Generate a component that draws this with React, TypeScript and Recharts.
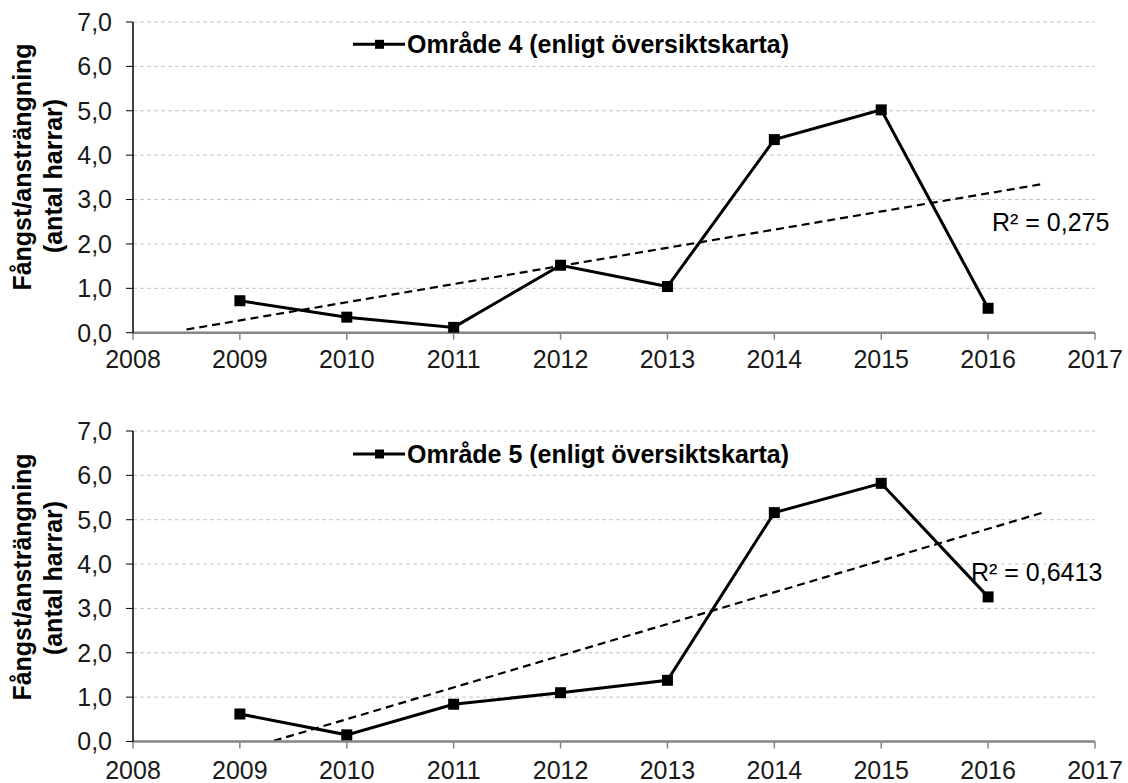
import React from 'react';
import { LineChart, Line, XAxis, YAxis, CartesianGrid } from 'recharts';

const years = [2009, 2010, 2011, 2012, 2013, 2014, 2015, 2016];
const area4Values = [0.72, 0.35, 0.12, 1.52, 1.04, 4.35, 5.02, 0.55];
const area5Values = [0.62, 0.15, 0.84, 1.1, 1.38, 5.16, 5.82, 3.26];
const xTicks = [2008, 2009, 2010, 2011, 2012, 2013, 2014, 2015, 2016, 2017];
const yTicks = [0, 1, 2, 3, 4, 5, 6, 7];
const trendRange = [2008.5, 2016.5];
const legendArea4 = 'Område 4 (enligt översiktskarta)';
const legendArea5 = 'Område 5 (enligt översiktskarta)';
const r2Area4 = 'R² = 0,275';
const r2Area5 = 'R² = 0,6413';
const yLabelLine1 = 'Fångst/ansträngning';
const yLabelLine2 = '(antal harrar)';

const FONT = '"Liberation Sans", Arial, sans-serif';

function buildSeries(values: number[]) {
  return years.map((x, i) => ({ x, y: values[i] }));
}

function buildTrend(values: number[]) {
  const n = years.length;
  const mx = years.reduce((a, b) => a + b, 0) / n;
  const my = values.reduce((a, b) => a + b, 0) / n;
  let sxy = 0;
  let sxx = 0;
  years.forEach((x, i) => {
    sxy += (x - mx) * (values[i] - my);
    sxx += (x - mx) * (x - mx);
  });
  const slope = sxy / sxx;
  return trendRange.map((x) => ({ x, t: my + slope * (x - mx) }));
}

const SquareDot = (props: any) => {
  const { cx, cy, index } = props;
  if (cx == null || cy == null) return <g key={index} />;
  return <rect key={index} x={cx - 5.5} y={cy - 5.5} width={11} height={11} fill="#000" />;
};

const fmt = (v: number) => v.toFixed(1).replace('.', ',');

function Panel(props: {
  values: number[];
  top: number;
  height: number;
  margin: { top: number; right: number; left: number; bottom: number };
  xAxisHeight: number;
  xTickMargin: number;
}) {
  const { values, top, height, margin, xAxisHeight, xTickMargin } = props;
  const series = buildSeries(values);
  const trend = buildTrend(values);
  return (
    <div style={{ position: 'absolute', left: 0, top }}>
      <LineChart width={1128} height={height} margin={margin}>
        <CartesianGrid vertical={false} stroke="#c4c4c4" strokeDasharray="4 3" />
        <XAxis
          type="number"
          dataKey="x"
          domain={[2008, 2017]}
          ticks={xTicks}
          allowDataOverflow
          height={xAxisHeight}
          tickSize={7}
          tickMargin={xTickMargin}
          axisLine={{ stroke: '#868686', strokeWidth: 2.5 }}
          tickLine={{ stroke: '#868686', strokeWidth: 1.5 }}
          tick={{ fill: '#1a1a1a', fontSize: 25, fontFamily: FONT }}
          interval={0}
        />
        <YAxis
          type="number"
          domain={[0, 7]}
          ticks={yTicks}
          allowDataOverflow
          width={133}
          tickSize={7}
          tickMargin={14}
          tickFormatter={fmt}
          axisLine={{ stroke: '#000', strokeWidth: 1.5 }}
          tickLine={{ stroke: '#000', strokeWidth: 1 }}
          tick={{ fill: '#1a1a1a', fontSize: 25, fontFamily: FONT }}
          interval={0}
        />
        <Line
          data={trend}
          dataKey="t"
          stroke="#000"
          strokeWidth={2.2}
          strokeDasharray="8 5"
          dot={false}
          activeDot={false}
          isAnimationActive={false}
          type="linear"
        />
        <Line
          data={series}
          dataKey="y"
          stroke="#000"
          strokeWidth={3}
          dot={SquareDot}
          activeDot={false}
          isAnimationActive={false}
          type="linear"
        />
      </LineChart>
    </div>
  );
}

function Legend(props: { x: number; y: number; text: string }) {
  const { x, y, text } = props;
  return (
    <g>
      <line x1={x} y1={y} x2={x + 52} y2={y} stroke="#000" strokeWidth={3} />
      <rect x={x + 22} y={y - 4.5} width={9} height={9} fill="#000" />
      <text x={x + 54} y={y} dominantBaseline="central" fontFamily={FONT} fontSize={25} fontWeight="bold" fill="#000">
        {text}
      </text>
    </g>
  );
}

function YLabel(props: { c1: number; c2: number }) {
  const { c1, c2 } = props;
  return (
    <g fontFamily={FONT} fontSize={25} fontWeight="bold" fill="#000">
      <text x={22} y={c1} textAnchor="middle" dominantBaseline="central" transform={`rotate(-90, 22, ${c1})`}>
        {yLabelLine1}
      </text>
      <text x={53} y={c2} textAnchor="middle" dominantBaseline="central" transform={`rotate(-90, 53, ${c2})`}>
        {yLabelLine2}
      </text>
    </g>
  );
}

export default function App() {
  return (
    <div style={{ position: 'absolute', left: 0, top: 0, width: 1128, height: 783, background: '#fff', overflow: 'hidden' }}>
      <Panel
        values={area4Values}
        top={0}
        height={390}
        margin={{ top: 22, right: 33, left: 0, bottom: 17.3 }}
        xAxisHeight={40}
        xTickMargin={11}
      />
      <Panel
        values={area5Values}
        top={390}
        height={393}
        margin={{ top: 41, right: 33, left: 0, bottom: 11.5 }}
        xAxisHeight={30}
        xTickMargin={13}
      />
      <svg width={1128} height={783} style={{ position: 'absolute', left: 0, top: 0, pointerEvents: 'none' }}>
        <Legend x={353} y={44.3} text={legendArea4} />
        <Legend x={353} y={454} text={legendArea5} />
        <YLabel c1={167} c2={176} />
        <YLabel c1={577} c2={578} />
        <text x={992} y={221.7} dominantBaseline="central" fontFamily={FONT} fontSize={25} fill="#000">
          {r2Area4}
        </text>
        <text x={971} y={571.7} dominantBaseline="central" fontFamily={FONT} fontSize={25} fill="#000">
          {r2Area5}
        </text>
      </svg>
    </div>
  );
}
